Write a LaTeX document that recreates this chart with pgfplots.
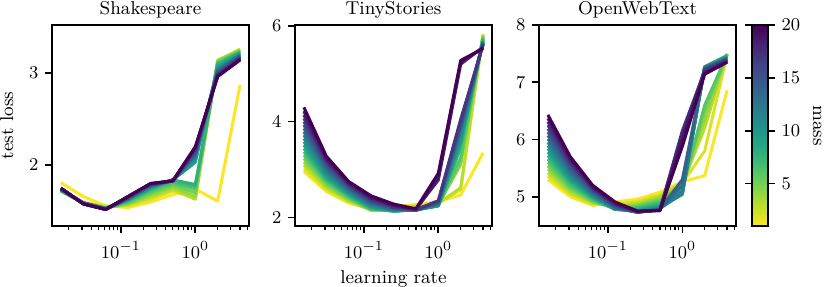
\documentclass[border=0pt]{standalone}
\usepackage{pgfplots}
\usepackage{pgfplotstable}
\pgfplotsset{compat=1.18}
\pgfplotsset{colormap={rviridis}{rgb255=(253,231,37) rgb255=(189,223,38) rgb255=(122,209,81) rgb255=(68,191,112) rgb255=(34,168,132) rgb255=(33,145,140) rgb255=(42,120,142) rgb255=(53,95,141) rgb255=(65,68,135) rgb255=(72,36,117) rgb255=(68,1,84)}}
\pgfplotstableread{
lr m1 m2 m3 m4 m5 m6 m7 m8 m9 m10 m11 m12 m13 m14 m15 m16 m17 m18 m19 m20
0.015625 1.81 1.73 1.72 1.72 1.72 1.72 1.73 1.73 1.73 1.73 1.74 1.74 1.74 1.74 1.74 1.75 1.75 1.75 1.75 1.75
0.03125 1.66 1.60 1.59 1.59 1.59 1.59 1.59 1.59 1.59 1.59 1.59 1.59 1.59 1.59 1.58 1.58 1.58 1.58 1.58 1.58
0.0625 1.56 1.55 1.54 1.54 1.54 1.53 1.53 1.53 1.53 1.53 1.53 1.53 1.52 1.52 1.52 1.52 1.52 1.52 1.52 1.52
0.125 1.54 1.56 1.57 1.58 1.59 1.60 1.61 1.62 1.62 1.63 1.63 1.64 1.64 1.64 1.65 1.65 1.65 1.66 1.66 1.66
0.25 1.60 1.63 1.65 1.67 1.69 1.71 1.73 1.74 1.75 1.76 1.77 1.77 1.78 1.78 1.79 1.79 1.79 1.80 1.80 1.80
0.5 1.68 1.72 1.74 1.76 1.78 1.80 1.82 1.84 1.84 1.84 1.84 1.84 1.84 1.83 1.83 1.83 1.83 1.83 1.83 1.83
1 1.74 1.64 1.63 1.66 1.70 1.74 1.77 1.79 2.03 2.06 2.08 2.10 2.11 2.13 2.14 2.16 2.17 2.18 2.19 2.20
2 1.61 3.13 3.14 3.13 3.12 3.11 3.10 3.09 3.07 3.05 3.04 3.03 3.02 3.01 3.00 2.99 2.98 2.97 2.97 2.96
4 2.87 3.26 3.25 3.25 3.24 3.23 3.23 3.22 3.21 3.20 3.20 3.19 3.19 3.18 3.17 3.17 3.16 3.15 3.15 3.14
}\tabshake
\pgfplotstableread{
lr m1 m2 m3 m4 m5 m6 m7 m8 m9 m10 m11 m12 m13 m14 m15 m16 m17 m18 m19 m20
0.015625 2.96 3.02 3.09 3.16 3.23 3.30 3.37 3.44 3.51 3.58 3.65 3.72 3.79 3.86 3.93 4.00 4.07 4.14 4.22 4.30
0.03125 2.54 2.58 2.62 2.66 2.70 2.74 2.78 2.81 2.85 2.89 2.93 2.97 3.01 3.05 3.09 3.13 3.17 3.20 3.24 3.28
0.0625 2.30 2.32 2.35 2.37 2.39 2.42 2.44 2.47 2.49 2.51 2.54 2.56 2.58 2.61 2.63 2.66 2.68 2.70 2.73 2.75
0.125 2.18 2.16 2.15 2.15 2.16 2.17 2.18 2.19 2.21 2.23 2.25 2.27 2.29 2.31 2.33 2.35 2.37 2.40 2.42 2.45
0.25 2.22 2.19 2.17 2.16 2.15 2.14 2.13 2.13 2.13 2.14 2.15 2.16 2.17 2.18 2.19 2.21 2.22 2.24 2.26 2.28
0.5 2.27 2.24 2.22 2.20 2.19 2.18 2.17 2.16 2.16 2.15 2.15 2.15 2.15 2.15 2.15 2.16 2.16 2.17 2.17 2.18
1 2.33 2.30 2.29 2.27 2.26 2.25 2.24 2.24 2.24 2.25 2.27 2.28 2.30 2.31 2.32 2.33 2.35 2.78 2.85 2.92
2 2.47 2.58 2.62 3.10 3.17 3.25 3.45 3.52 3.58 3.65 3.75 3.80 3.85 3.90 3.95 4.00 4.05 5.20 5.25 5.28
4 3.35 5.83 5.82 5.80 5.78 5.76 5.74 5.72 5.70 5.68 5.67 5.66 5.65 5.64 5.63 5.62 5.61 5.56 5.54 5.53
}\tabtiny
\pgfplotstableread{
lr m1 m2 m3 m4 m5 m6 m7 m8 m9 m10 m11 m12 m13 m14 m15 m16 m17 m18 m19 m20
0.015625 5.30 5.36 5.42 5.48 5.54 5.60 5.66 5.72 5.78 5.84 5.89 5.95 6.01 6.07 6.13 6.19 6.25 6.31 6.37 6.43
0.03125 5.00 5.04 5.07 5.11 5.15 5.18 5.22 5.26 5.29 5.33 5.37 5.40 5.44 5.48 5.52 5.55 5.59 5.63 5.66 5.70
0.0625 4.85 4.87 4.89 4.91 4.92 4.94 4.96 4.98 5.00 5.02 5.03 5.05 5.07 5.09 5.11 5.13 5.14 5.16 5.18 5.20
0.125 4.91 4.87 4.84 4.82 4.80 4.79 4.78 4.78 4.78 4.78 4.79 4.80 4.81 4.82 4.83 4.85 4.86 4.88 4.89 4.91
0.25 4.96 4.92 4.89 4.86 4.84 4.82 4.80 4.78 4.76 4.75 4.74 4.73 4.73 4.73 4.73 4.74 4.74 4.74 4.75 4.75
0.5 5.08 5.04 5.01 4.98 4.95 4.92 4.89 4.86 4.84 4.82 4.80 4.79 4.78 4.78 4.77 4.77 4.77 4.76 4.76 4.76
1 5.26 5.24 5.22 5.20 5.18 5.15 5.12 5.08 5.05 5.04 5.05 5.10 5.20 5.30 5.90 6.05 6.15 6.10 6.00 5.88
2 5.37 5.80 6.20 6.35 6.50 6.60 7.27 7.27 7.27 7.26 7.26 7.25 7.25 7.24 7.23 7.22 7.20 7.18 7.16 7.14
4 6.86 7.48 7.49 7.50 7.49 7.48 7.47 7.46 7.45 7.44 7.43 7.42 7.41 7.40 7.40 7.39 7.38 7.37 7.36 7.35
}\tabowt
\begin{document}
\fontsize{9.3}{11}\selectfont
\begin{tikzpicture}
\path[use as bounding box] (-26pt,-30pt) rectangle (388.5pt,113pt);
\begin{axis}[at={(0pt,0pt)}, anchor=south west,
  scale only axis, width=98.5pt, height=100.5pt,
  xmode=log, xmin=0.01186, xmax=5.27,
  xtick={0.1,1},
  minor xtick={0.02,0.03,0.04,0.05,0.06,0.07,0.08,0.09,0.2,0.3,0.4,0.5,0.6,0.7,0.8,0.9,2,3,4,5},
  tick align=outside, tick pos=left,
  major tick length=3.5pt, minor tick length=2pt,
  axis line style={line width=0.8pt},
  major tick style={black, line width=0.8pt},
  minor tick style={black, line width=0.6pt},
  cycle list={[samples of colormap={20 of rviridis}]},
  title style={at={(0.5,1)}, anchor=base, yshift=-0.8pt},
  xticklabel style={yshift=-1pt},
  title={Shakespeare}, ylabel={test loss},
  ylabel style={yshift=1.5pt},
  ymin=1.34, ymax=3.52, ytick={2,3}]
\pgfplotsinvokeforeach{1,...,20}{\addplot+[line width=1.5pt, line join=round, mark=none] table[x=lr, y=m#1] {\tabshake};}
\end{axis}
\begin{axis}[at={(121.5pt,0pt)}, anchor=south west,
  scale only axis, width=98.5pt, height=100.5pt,
  xmode=log, xmin=0.01186, xmax=5.27,
  xtick={0.1,1},
  minor xtick={0.02,0.03,0.04,0.05,0.06,0.07,0.08,0.09,0.2,0.3,0.4,0.5,0.6,0.7,0.8,0.9,2,3,4,5},
  tick align=outside, tick pos=left,
  major tick length=3.5pt, minor tick length=2pt,
  axis line style={line width=0.8pt},
  major tick style={black, line width=0.8pt},
  minor tick style={black, line width=0.6pt},
  cycle list={[samples of colormap={20 of rviridis}]},
  title style={at={(0.5,1)}, anchor=base, yshift=-0.8pt},
  xticklabel style={yshift=-1pt},
  title={TinyStories}, xlabel={learning rate},
  ymin=1.82, ymax=6.02, ytick={2,4,6}]
\pgfplotsinvokeforeach{1,...,20}{\addplot+[line width=1.5pt, line join=round, mark=none] table[x=lr, y=m#1] {\tabtiny};}
\end{axis}
\begin{axis}[at={(243.5pt,0pt)}, anchor=south west,
  scale only axis, width=98.5pt, height=100.5pt,
  xmode=log, xmin=0.01186, xmax=5.27,
  xtick={0.1,1},
  minor xtick={0.02,0.03,0.04,0.05,0.06,0.07,0.08,0.09,0.2,0.3,0.4,0.5,0.6,0.7,0.8,0.9,2,3,4,5},
  tick align=outside, tick pos=left,
  major tick length=3.5pt, minor tick length=2pt,
  axis line style={line width=0.8pt},
  major tick style={black, line width=0.8pt},
  minor tick style={black, line width=0.6pt},
  cycle list={[samples of colormap={20 of rviridis}]},
  title style={at={(0.5,1)}, anchor=base, yshift=-0.8pt},
  xticklabel style={yshift=-1pt},
  title={OpenWebText},
  ymin=4.49, ymax=8.0, ytick={5,6,7,8},
  colormap name=rviridis, point meta min=1, point meta max=20,
  colorbar right,
  colorbar style={at={(parent axis.north east)}, anchor=north west,
    xshift=-0.5pt, width=8pt,
    ytick={5,10,15,20}, yticklabel pos=right,
    tick align=outside, major tick length=3.5pt,
    major tick style={black, line width=0.8pt},
    axis line style={line width=0.8pt},
    ylabel={mass}, ylabel style={rotate=180}}]
\pgfplotsinvokeforeach{1,...,20}{\addplot+[line width=1.5pt, line join=round, mark=none] table[x=lr, y=m#1] {\tabowt};}
\end{axis}
\end{tikzpicture}
\end{document}
